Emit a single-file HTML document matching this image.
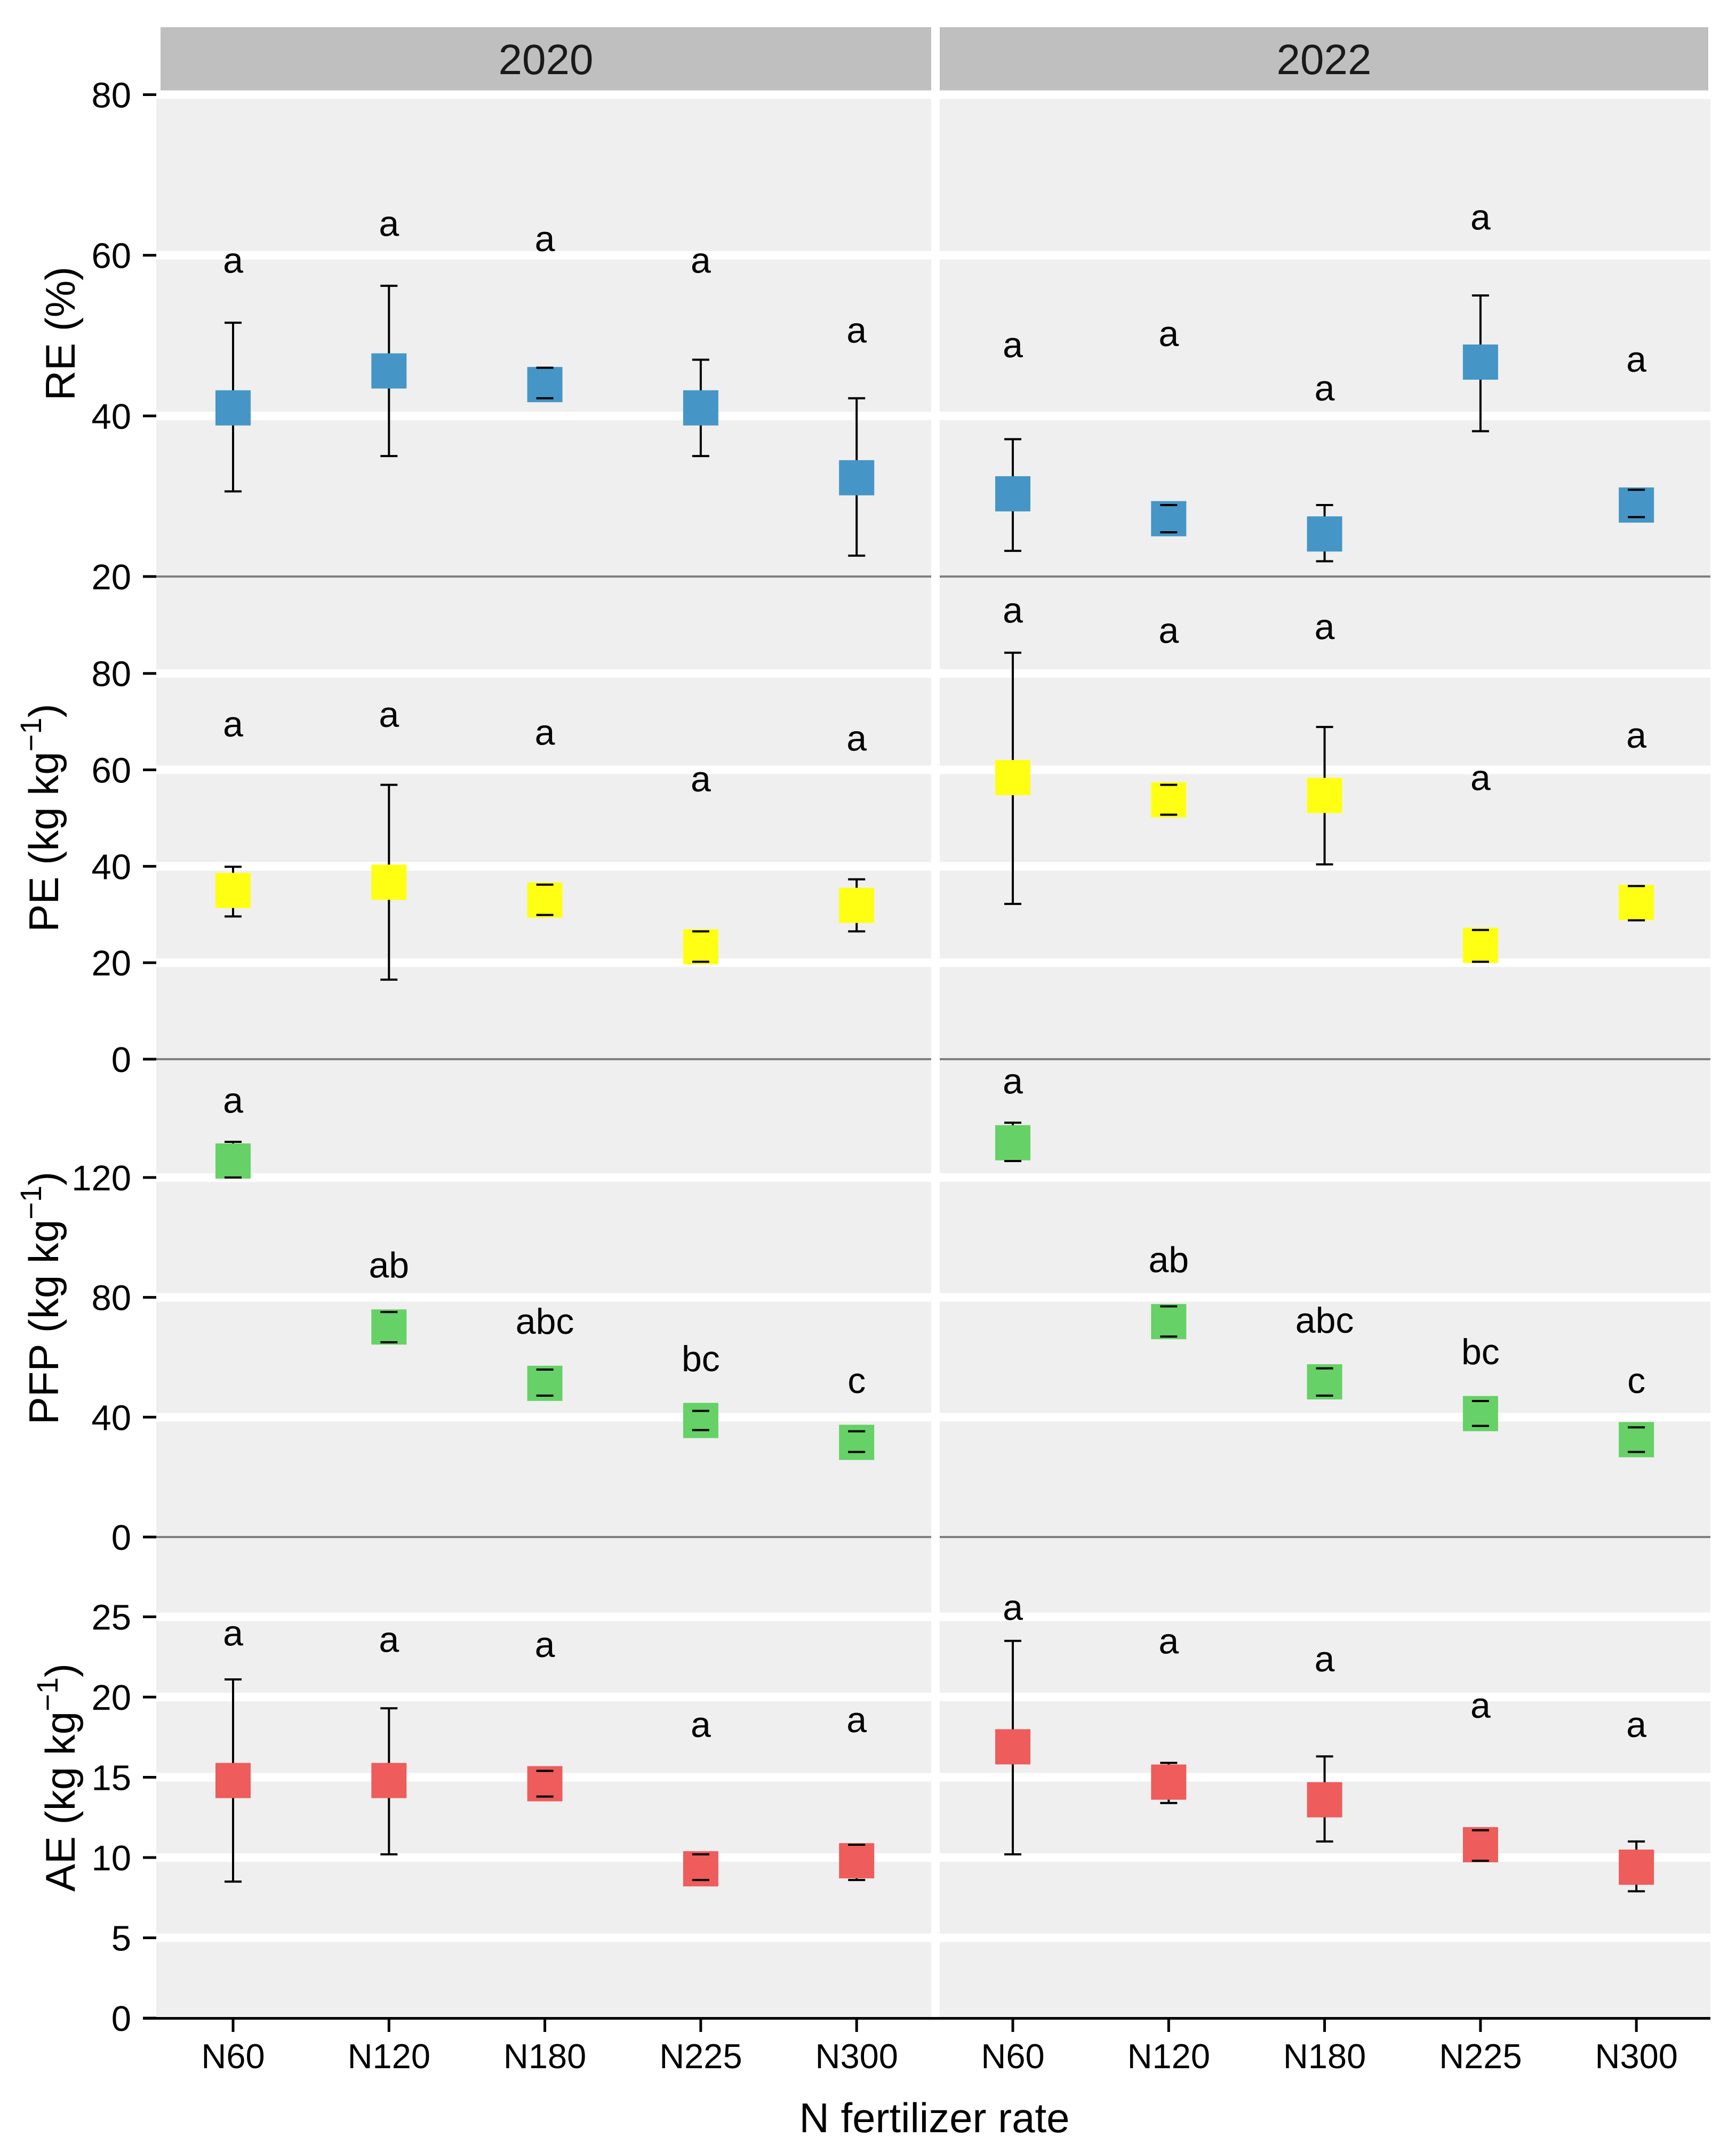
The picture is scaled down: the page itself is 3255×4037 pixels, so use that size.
<!DOCTYPE html>
<html><head><meta charset="utf-8">
<style>
html,body{margin:0;padding:0;background:#fff;}
svg{display:block;font-family:"Liberation Sans",Arial,sans-serif;}
</style></head>
<body>
<svg id="chart" width="3255" height="4037" viewBox="0 0 3255 4037" xmlns="http://www.w3.org/2000/svg"></svg>
<script>
const categories = ["N60","N120","N180","N225","N300"];
const years = ["2020","2022"];

// RE (%)
const reMean2020 = [41.0,45.6,43.9,41.0,32.3];
const reUpper2020 = [51.6,56.2,46.0,47.0,42.2];
const reLower2020 = [30.6,35.0,42.2,35.0,22.6];
const reLetter2020 = ["a","a","a","a","a"];
const reLetterPos2020 = [59.0,63.6,61.7,59.0,50.3];
const reMean2022 = [30.3,27.2,25.3,46.7,28.9];
const reUpper2022 = [37.1,28.9,28.9,55.0,30.8];
const reLower2022 = [23.2,25.5,21.9,38.1,27.4];
const reLetter2022 = ["a","a","a","a","a"];
const reLetterPos2022 = [48.5,49.9,43.1,64.4,46.7];

// PE
const peMean2020 = [35.0,36.7,33.0,23.3,31.9];
const peUpper2020 = [39.9,56.9,36.2,26.5,37.3];
const peLower2020 = [29.6,16.5,29.9,20.2,26.5];
const peLetter2020 = ["a","a","a","a","a"];
const peLetterPos2020 = [68.9,70.9,67.2,57.5,66.0];
const peMean2022 = [58.4,53.8,54.7,23.6,32.5];
const peUpper2022 = [84.3,56.9,68.9,26.8,35.9];
const peLower2022 = [32.2,50.7,40.4,20.2,28.8];
const peLetter2022 = ["a","a","a","a","a"];
const peLetterPos2022 = [92.5,88.3,89.1,57.8,66.6];

// PFP
const pfpMean2020 = [125.5,70.1,51.3,38.9,31.6];
const pfpUpper2020 = [131.9,75.1,55.9,42.1,35.3];
const pfpLower2020 = [120.0,65.0,47.2,35.7,28.4];
const pfpLetter2020 = ["a","ab","abc","bc","c"];
const pfpLetterPos2020 = [144.8,89.8,71.0,58.6,51.3];
const pfpMean2022 = [131.6,71.9,51.8,41.2,32.5];
const pfpUpper2022 = [138.3,77.0,56.3,45.4,36.6];
const pfpLower2022 = [125.5,66.9,47.2,37.1,28.4];
const pfpLetter2022 = ["a","ab","abc","bc","c"];
const pfpLetterPos2022 = [151.2,91.6,71.4,60.9,51.3];

// AE
const aeMean2020 = [14.8,14.8,14.6,9.3,9.8];
const aeUpper2020 = [21.1,19.3,15.4,10.2,10.8];
const aeLower2020 = [8.5,10.2,13.8,8.6,8.6];
const aeLetter2020 = ["a","a","a","a","a"];
const aeLetterPos2020 = [23.8,23.4,23.1,18.1,18.4];
const aeMean2022 = [16.9,14.7,13.6,10.8,9.4];
const aeUpper2022 = [23.5,15.9,16.3,11.7,11.0];
const aeLower2022 = [10.2,13.4,11.0,9.8,7.9];
const aeLetter2022 = ["a","a","a","a","a"];
const aeLetterPos2022 = [25.4,23.3,22.2,19.3,18.1];

const reTicks = [20,40,60,80];
const peTicks = [0,20,40,60,80];
const pfpTicks = [0,40,80,120];
const aeTicks = [0,5,10,15,20,25];

const NS = "http://www.w3.org/2000/svg";
const svg = document.getElementById("chart");
function mk(tag, attrs, parent){
  const e = document.createElementNS(NS, tag);
  for (const k in attrs) e.setAttribute(k, attrs[k]);
  (parent||svg).appendChild(e);
  return e;
}

// layout
const panelX = [[293,1746],[1762,3207]];
const xStart = [437,1899];
const xStep = [292.3,292.3];
function xPos(p,i){ return xStart[p] + i*xStep[p]; }

const rows = [
  {key:"re", top:170, bottom:1081, vmin:20, vmax:80.5, ticks:reTicks, color:"#4596C6", title:"RE (%)", sup:false, tx:140},
  {key:"pe", top:1081, bottom:1986, vmin:0, vmax:100.1, ticks:peTicks, color:"#FFFF14", title:"PE (kg kg", sup:true, tx:109},
  {key:"pfp", top:1986, bottom:2882, vmin:0, vmax:159.5, ticks:pfpTicks, color:"#66D166", title:"PFP (kg kg", sup:true, tx:109},
  {key:"ae", top:2882, bottom:3784, vmin:0, vmax:29.97, ticks:aeTicks, color:"#EE5C5C", title:"AE (kg kg", sup:true, tx:140}
];
const dataSets = {
  re:[[reMean2020,reUpper2020,reLower2020,reLetter2020,reLetterPos2020],[reMean2022,reUpper2022,reLower2022,reLetter2022,reLetterPos2022]],
  pe:[[peMean2020,peUpper2020,peLower2020,peLetter2020,peLetterPos2020],[peMean2022,peUpper2022,peLower2022,peLetter2022,peLetterPos2022]],
  pfp:[[pfpMean2020,pfpUpper2020,pfpLower2020,pfpLetter2020,pfpLetterPos2020],[pfpMean2022,pfpUpper2022,pfpLower2022,pfpLetter2022,pfpLetterPos2022]],
  ae:[[aeMean2020,aeUpper2020,aeLower2020,aeLetter2020,aeLetterPos2020],[aeMean2022,aeUpper2022,aeLower2022,aeLetter2022,aeLetterPos2022]]
};
function yScale(row, v){ return row.bottom - (v-row.vmin)/(row.vmax-row.vmin)*(row.bottom-row.top); }

// panel backgrounds
panelX.forEach((px,p)=>{
  const r = mk("rect",{x:px[0],y:170,width:px[1]-px[0],height:3784-170,fill:"#EFEFEF"});
  
  
});

// strips
const stripX = [[301,1746],[1762,3203]];
stripX.forEach((sx,p)=>{
  const g = mk("g",{});
  
  
  mk("rect",{x:sx[0],y:51,width:sx[1]-sx[0],height:119,fill:"#BFBFBF"},g);
  const t = mk("text",{x:(sx[0]+sx[1])/2,y:139,"font-size":80,"text-anchor":"middle",fill:"#1a1a1a"},g);
  t.textContent = years[p];
});

rows.forEach((row,ri)=>{
  const g = mk("g",{});
  
  
  // gridlines
  row.ticks.forEach(t=>{
    if (t===row.vmin) return;
    const y = yScale(row,t);
    panelX.forEach(px=>{
      const l = mk("line",{x1:px[0],x2:px[1],y1:y,y2:y,stroke:"#fff","stroke-width":16},g);
      
      
    });
  });
  // y ticks & labels
  row.ticks.forEach(t=>{
    const y = yScale(row,t);
    const tk = mk("line",{x1:268,x2:293,y1:y,y2:y,stroke:"#000","stroke-width":5},g);
    
    
    const lb = mk("text",{x:246,y:y+24,"font-size":67,"text-anchor":"end",fill:"#000"},g);
    
    
    lb.textContent = t;
  });
  // y title
  const cy = (row.top+row.bottom)/2;
  const tt = mk("text",{x:0,y:0,"font-size":78,"text-anchor":"middle",fill:"#000",transform:`translate(${row.tx},${cy}) rotate(-90)`},g);
  
  
  if (row.sup){
    const s1 = mk("tspan",{},tt); s1.textContent = row.title;
    const s2 = mk("tspan",{dy:-32,"font-size":56},tt); s2.textContent = "\u22121";
    const s3 = mk("tspan",{dy:32},tt); s3.textContent = ")";
  } else {
    tt.textContent = row.title;
  }
  // data
  for (let p=0;p<2;p++){
    const ds = dataSets[row.key][p];
    const means = ds[0], ups = ds[1], lows = ds[2], letters = ds[3], lpos = ds[4];
    categories.forEach((c,i)=>{
      const x = xPos(p,i);
      const ym = yScale(row,means[i]), yu = yScale(row,ups[i]), yl = yScale(row,lows[i]);
      const eg = mk("g",{},g);
      
      
      mk("line",{x1:x,x2:x,y1:yu,y2:yl,stroke:"#000","stroke-width":4},eg);
      mk("rect",{x:x-33,y:ym-33,width:66,height:66,fill:row.color},eg);
      mk("line",{x1:x-16,x2:x+16,y1:yu,y2:yu,stroke:"#000","stroke-width":4},eg);
      mk("line",{x1:x-16,x2:x+16,y1:yl,y2:yl,stroke:"#000","stroke-width":4},eg);
      const lt = mk("text",{x:x,y:yScale(row,lpos[i])+18,"font-size":68,"text-anchor":"middle",fill:"#000"},g);
      
      
      lt.textContent = letters[i];
    });
  }
  // separator line
  if (ri<3){
    const sl = mk("line",{x1:293,x2:3207,y1:row.bottom,y2:row.bottom,stroke:"#7F7F7F","stroke-width":4},g);
    
    
  }
});

// white gap between panels
const gap = mk("rect",{x:1746,y:170,width:16,height:3784-170,fill:"#fff"});



// x axis
const ax = mk("g",{});


mk("line",{x1:268,x2:3207,y1:3784.5,y2:3784.5,stroke:"#000","stroke-width":5},ax);
for (let p=0;p<2;p++){
  categories.forEach((c,i)=>{
    const x = xPos(p,i);
    const tk = mk("line",{x1:x,x2:x,y1:3787,y2:3810,stroke:"#000","stroke-width":5},ax);
    
    
    const lb = mk("text",{x:x,y:3878,"font-size":65,"text-anchor":"middle",fill:"#000"},ax);
    
    
    lb.textContent = c;
  });
}
const xt = mk("text",{x:1752,y:3998,"font-size":78,"text-anchor":"middle",fill:"#000"});


xt.textContent = "N fertilizer rate";
</script>
</body></html>
